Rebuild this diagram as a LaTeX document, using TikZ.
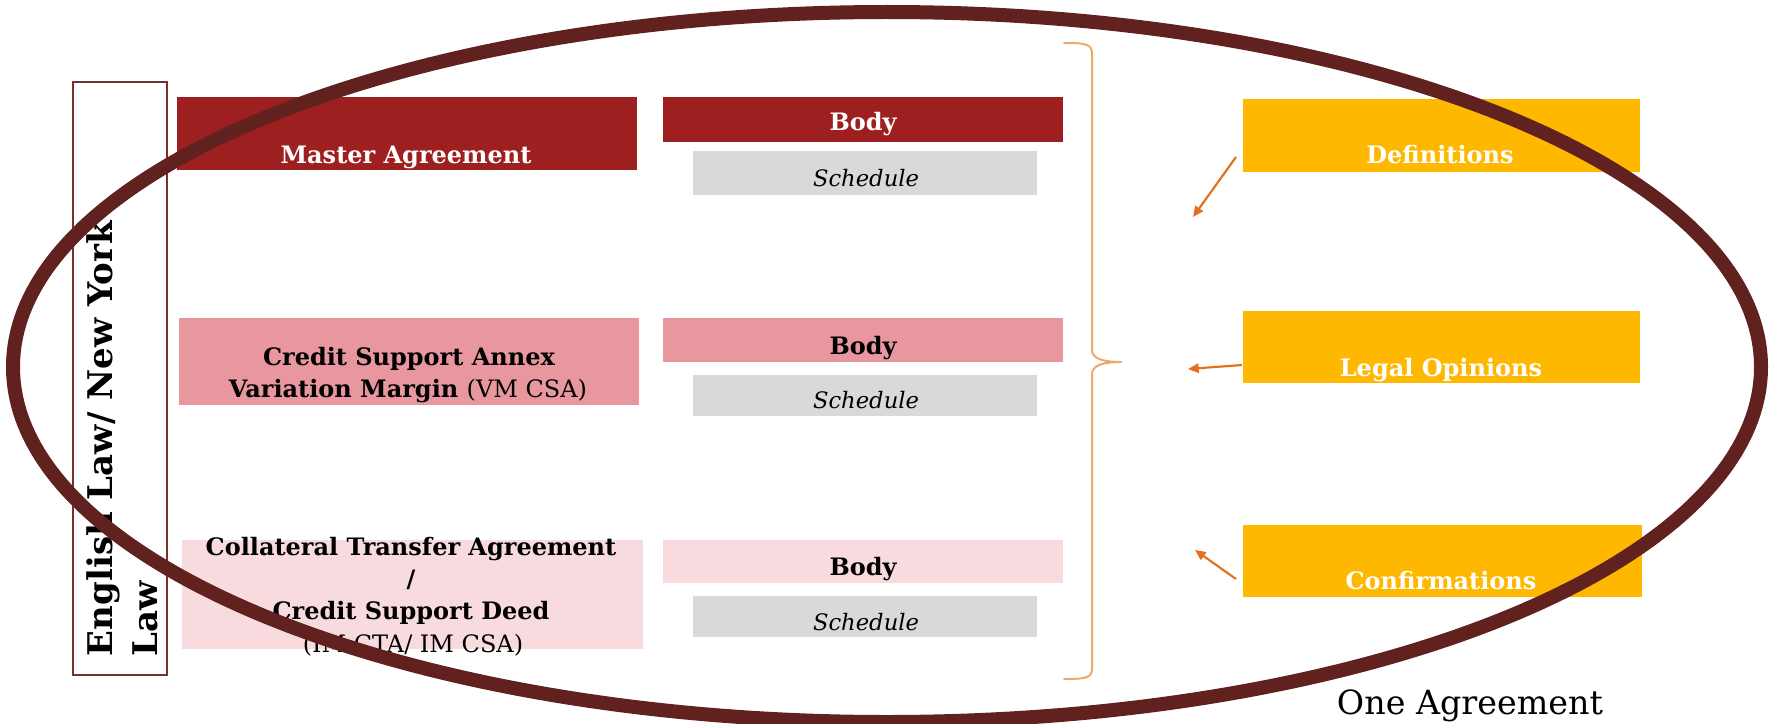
\documentclass[tikz,border=0pt]{standalone}
\usepackage{fontspec}
\setmainfont{DejaVu Serif}
\usetikzlibrary{arrows.meta,fit,calc}
\definecolor{darkred}{HTML}{9E1F20}
\definecolor{rosepink}{HTML}{E8979F}
\definecolor{palepink}{HTML}{F8DBDF}
\definecolor{schedgray}{HTML}{D9D9D9}
\definecolor{amber}{HTML}{FFB800}
\definecolor{ringbrown}{HTML}{61211F}
\definecolor{braceorange}{HTML}{F0A868}
\definecolor{arroworange}{HTML}{E2701C}
\definecolor{lawborder}{HTML}{7B3030}
\begin{document}
\begin{tikzpicture}[x=0.75pt,y=-0.75pt,
  panel/.style={inner sep=0pt, outer sep=0pt, draw=none},
  lbl/.style={anchor=base, inner sep=0pt, outer sep=0pt,
    font=\fontsize{18}{22}\selectfont\bfseries},
  sched/.style={anchor=base, inner sep=0pt, outer sep=0pt,
    font=\fontsize{17}{21}\selectfont\itshape},
  lawtxt/.style={anchor=base west, rotate=90, inner sep=0pt, outer sep=0pt,
    font=\fontsize{25.5}{30}\selectfont\bfseries},
  arr/.style={draw=arroworange, line width=1.6pt,
    -{Triangle[length=8pt,width=7pt]}},
  ring/.style={draw=ringbrown, line width=10.5pt},
  bracepath/.style={draw=braceorange, line width=1.5pt, line cap=round, line join=round}
]
\useasboundingbox (0,0) rectangle (1769,724);
\fill[white] (0,0) rectangle (1769,724);

% governing-law frame
\node[panel, draw=lawborder, line width=1.1pt, fit={(73,82) (167,675)}] (law) {};
\node[lawtxt] (law-t1) at (112,656) {English Law/ New York};
\node[lawtxt] (law-t2) at (157,656) {Law};

% Master Agreement row
\node[panel, fill=darkred, fit={(177,97) (637,170)}] (ma) {};
\node[lbl, text=white] (ma-t) at (406,163) {Master Agreement};
\node[panel, fill=darkred, fit={(663,97) (1063,142)}] (mab) {};
\node[lbl, text=white] (mab-t) at (863,130) {Body};
\node[panel, fill=schedgray, fit={(693,151) (1037,195)}] (mas) {};
\node[sched] (mas-t) at (866,186) {Schedule};

% VM CSA row
\node[panel, fill=rosepink, fit={(179,318) (639,405)}] (csa) {};
\node[lbl] (csa-t1) at (409,365) {Credit Support Annex};
\node[lbl] (csa-t2) at (408,397) {Variation Margin {\mdseries(VM CSA)}};
\node[panel, fill=rosepink, fit={(663,318) (1063,362)}] (csab) {};
\node[lbl] (csab-t) at (863,354) {Body};
\node[panel, fill=schedgray, fit={(693,375) (1037,416)}] (csas) {};
\node[sched] (csas-t) at (866,408) {Schedule};

% IM CTA / CSD row
\node[panel, fill=palepink, fit={(182,540) (643,649)}] (cta) {};
\node[lbl] (cta-t1) at (411,555) {Collateral Transfer Agreement};
\node[lbl] (cta-t2) at (411,587) {/};
\node[lbl] (cta-t3) at (411,619) {Credit Support Deed};
\node[lbl, font=\fontsize{18}{22}\selectfont] (cta-t4) at (413,652) {(IM CTA/ IM CSA)};
\node[panel, fill=palepink, fit={(663,540) (1063,583)}] (ctab) {};
\node[lbl] (ctab-t) at (863,575) {Body};
\node[panel, fill=schedgray, fit={(693,596) (1037,637)}] (ctas) {};
\node[sched] (ctas-t) at (866,630) {Schedule};

% grouping brace
\draw[bracepath] (1064,43) .. controls (1086,43) and (1092,44) .. (1092,54)
  -- (1092,350) .. controls (1092,359) and (1104,362) .. (1121,362)
  .. controls (1104,362) and (1092,365) .. (1092,374)
  -- (1092,668) .. controls (1092,678) and (1086,679) .. (1064,679);

% supporting documents
\node[panel, fill=amber, fit={(1243,99) (1640,172)}] (def) {};
\node[lbl, text=white] (def-t) at (1440,163) {Definitions};
\node[panel, fill=amber, fit={(1243,311) (1640,383)}] (legal) {};
\node[lbl, text=white] (legal-t) at (1441,376) {Legal Opinions};
\node[panel, fill=amber, fit={(1243,525) (1642,597)}] (conf) {};
\node[lbl, text=white] (conf-t) at (1441,589) {Confirmations};

\coordinate (def-to) at (1193,217);
\coordinate (legal-to) at (1188,369);
\coordinate (conf-to) at (1195,550);
\draw[arr] ($(def.south west)+(-7,-15)$) -- (def-to);
\draw[arr] ($(legal.south west)+(-1,-18)$) -- (legal-to);
\draw[arr] ($(conf.south west)+(-7,-18)$) -- (conf-to);

% the enclosing ring
\draw[ring] (887,367) ellipse [x radius=655.5pt, y radius=266.25pt];

\node[anchor=base, inner sep=0pt, font=\fontsize{25}{30}\selectfont] (one) at (1470,714) {One Agreement};
\end{tikzpicture}
\end{document}
